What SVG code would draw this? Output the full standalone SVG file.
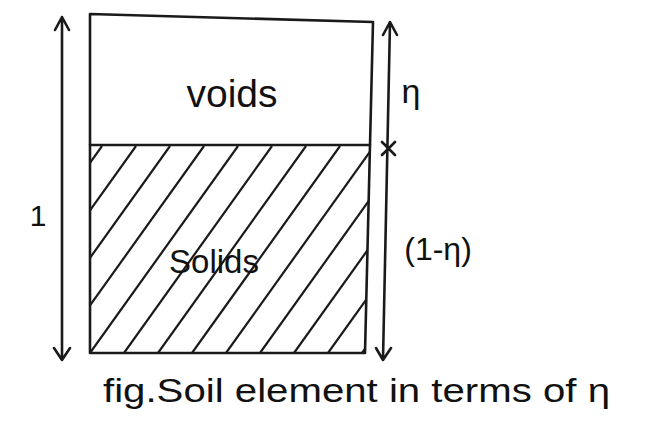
<svg xmlns="http://www.w3.org/2000/svg" width="647" height="426" viewBox="0 0 647 426">
<style>
.ln{fill:none;stroke:#1a1a1a;stroke-width:2.6;stroke-linecap:round;stroke-linejoin:round}
.ht{fill:none;stroke:#1a1a1a;stroke-width:2.2}
.tx{font-family:"Liberation Sans","DejaVu Sans",sans-serif;fill:#111}
</style>
<defs>
<clipPath id="solidClip"><polygon points="90,146 370,146 365,353 90,353"/></clipPath>
</defs>
<rect width="647" height="426" fill="#fff"/>
<g id="voids">
<path class="ln" d="M90,14 L373,22 L370,145 M90,14 L90,145 M90,145 L370,145"/>
<text class="tx" x="232" y="107" font-size="39" text-anchor="middle">voids</text>
</g>
<g id="solids">
<g clip-path="url(#solidClip)" class="ht">
<line x1="-46" y1="353" x2="102" y2="146"/>
<line x1="-12" y1="353" x2="136" y2="146"/>
<line x1="22" y1="353" x2="170" y2="146"/>
<line x1="56" y1="353" x2="204" y2="146"/>
<line x1="90" y1="353" x2="238" y2="146"/>
<line x1="124" y1="353" x2="272" y2="146"/>
<line x1="158" y1="353" x2="306" y2="146"/>
<line x1="192" y1="353" x2="340" y2="146"/>
<line x1="226" y1="353" x2="374" y2="146"/>
<line x1="260" y1="353" x2="408" y2="146"/>
<line x1="294" y1="353" x2="442" y2="146"/>
<line x1="328" y1="353" x2="476" y2="146"/>
<line x1="362" y1="353" x2="510" y2="146"/>
</g>
<path class="ln" d="M90,145 L90,353 L365,353 L370,145"/>
<text class="tx" x="214" y="273" font-size="33" text-anchor="middle">Solids</text>
</g>
<g id="connectors">
<path class="ln" d="M62,17 L62,360 M55,30 L62,17 L69,30 M54,348 L62,360 L70,348"/>
<path class="ln" d="M390,22 L383,360 M383,35 L390,22 L397,35 M376,348 L383,360 L391,348 M382,142 L395,155 M395,142 L382,155"/>
</g>
<g id="labels">
<text class="tx" x="38" y="226" font-size="30" text-anchor="middle">1</text>
<text class="tx" x="411" y="103" font-size="34" text-anchor="middle">η</text>
<text class="tx" x="438" y="260" font-size="32" text-anchor="middle">(1-η)</text>
<text class="tx" x="103" y="402" font-size="34" textLength="507" lengthAdjust="spacingAndGlyphs">fig.Soil element in terms of η</text>
</g>
</svg>
